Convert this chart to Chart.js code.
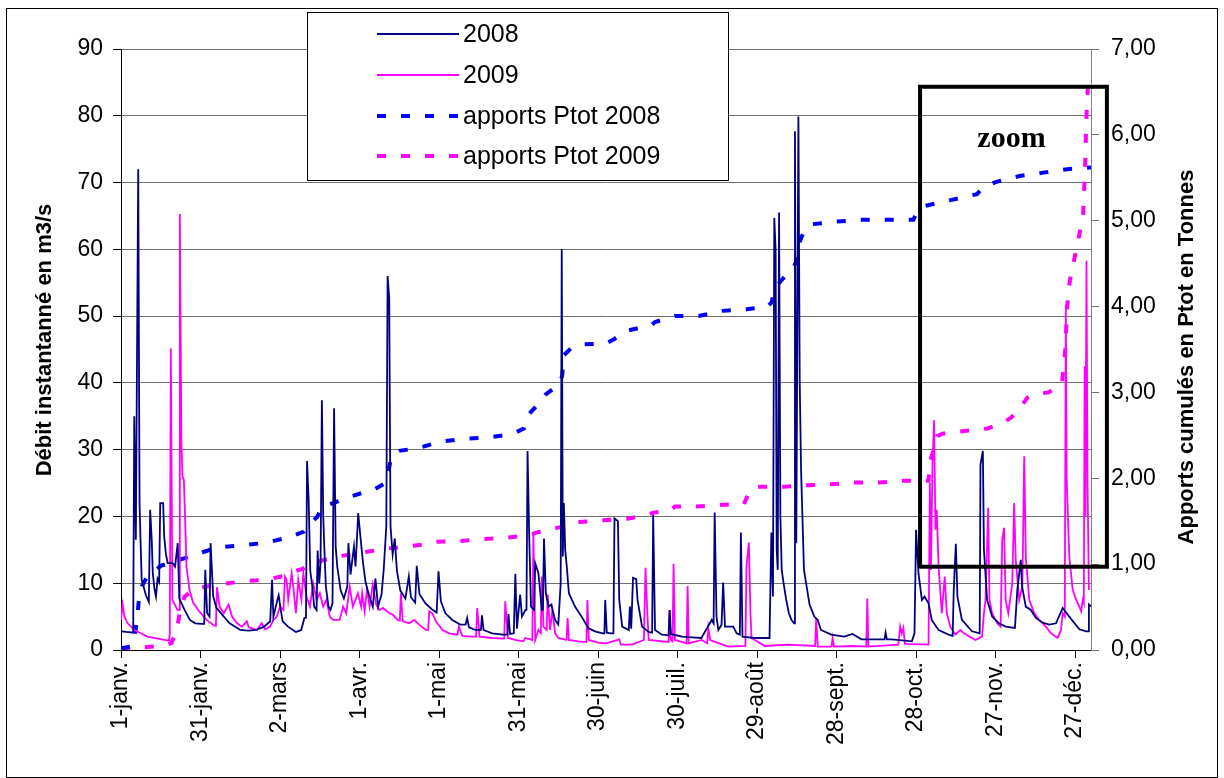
<!DOCTYPE html>
<html lang="fr">
<head>
<meta charset="UTF-8" />
<title>Débit instantané et apports Ptot 2008-2009</title>
<script src="https://cdn.jsdelivr.net/npm/chart.js@4.4.1/dist/chart.umd.min.js"></script>
<style>
  html, body { margin: 0; padding: 0; background: #fff; }
</style>
</head>
<body>
<canvas id="myChart" width="1224" height="778"></canvas>
<script>
// x axis: day of year, one tick label every 30 days
const tickDays = [0, 30, 60, 90, 120, 150, 180, 210, 240, 270, 300, 330, 360];
const tickLabels = ['1-janv.', '31-janv.', '2-mars', '1-avr.', '1-mai', '31-mai', '30-juin',
  '30-juil.', '29-août', '28-sept.', '28-oct.', '27-nov.', '27-déc.'];

// débit 2008 (m3/s)
const days2008 = [
  0, 2, 4.6, 5, 5.6, 6.5, 7.0, 7.4, 7.8, 8.5,
  9.4, 10.5, 11, 11.6, 12, 12.6, 13.2, 13.8, 14.4, 14.8,
  15.9, 16.3, 16.9, 17.6, 19.5, 20.4, 21.4, 22, 24, 26,
  28, 30.5, 31.4, 31.8, 32.5, 33.4, 33.8, 34.8, 36, 38.8, 41, 45,
  48, 51, 54, 56.3, 57, 57.5, 59, 59.5, 60.2, 61,
  63, 66, 68, 69.2, 69.8, 70.2, 70.8, 71.4, 72.2, 72.9, 73.8,
  74.2, 74.8, 75.3, 75.8, 76.3, 76.7, 77.3, 78.3, 79, 79.8,
  80.4, 81, 81.6, 82.9, 84.1, 85.4, 85.8, 86.6, 87.9, 88.5,
  89.5, 90.4, 91.3, 92.3, 93.5, 95, 96, 97, 98.3, 99.1,
  100.1, 100.6, 101.2, 101.7, 102.5, 103.3, 104.1, 105.4, 107.3, 108.6,
  109.4, 111, 111.6, 112.6, 114.8, 117.3, 119.1, 119.8, 120.7, 122.4,
  125, 128, 130, 130.6, 131.3, 133.8, 135.8, 136.2, 136.8, 140, 144,
  145.8, 146.2, 146.8, 148.2, 148.8, 149.4, 150.6, 151.3, 152.6, 153.0, 153.4, 154,
  154.7, 155.9, 156.3, 157.5, 158.8, 159.2, 159.6, 160.3, 161.3, 162.3, 163.8, 165,
  165.9, 166.3, 166.7, 167.1, 167.6, 168.2, 169, 171.3, 173.8, 176.3,
  178.8, 181.8, 182.4, 182.7, 183.3, 184.8, 185.8, 186.2, 187.5, 188, 189.1, 191.6,
  192, 192.5, 193.2, 194.4, 194.9, 196.6, 199.1, 200.4, 200.8, 201.5, 204.1,
  206.6, 207, 207.5, 211.6, 215.4, 219, 222.9, 223.6, 224, 224.7, 225.4, 226.6,
  227.2, 227.9, 231, 232.3, 233.5, 233.9, 234.5, 239, 244.7, 245.4, 246,
  246.5, 247, 247.4, 247.8, 248.3, 248.8, 249.3, 250, 251, 252,
  253, 254, 254.3, 254.8, 255.6, 256.1, 256.6, 257.7, 259.8, 261.6,
  262.9, 264.1, 268, 272.9, 276, 279.4, 287, 288.1, 288.5, 289, 290.8,
  298.4, 299.4, 300, 300.9, 302.2, 303.2, 304.7, 305.9, 308.5, 312.3,
  313.8, 314.2, 315, 315.6, 317.3, 321.1, 324, 324.3, 325.2, 325.6,
  326.8, 328.7, 331.3, 333.8, 337.3, 338.2, 339.5, 340, 341.4, 343.3,
  345.2, 347.7, 350.3, 352.8, 355.3, 357.8, 361.6, 364.2, 364.9, 365.2, 366
];
const flow2008 = [
  2.8, 2.7, 2.6, 35, 16.5, 72, 22, 16, 10.5, 9.5,
  8.2, 7.2, 21, 16.5, 11.5, 9.2, 8, 10.7, 10.2, 22,
  22, 17, 14.5, 13, 13, 12.5, 16, 7.7, 6, 4.5,
  4, 3.9, 3.9, 12, 5.5, 5, 16, 8, 6.3, 5, 4, 3,
  2.9, 3, 3.5, 4.3, 10.5, 5, 7.5, 8.2, 6.2, 4.3,
  3.5, 2.7, 3, 4.8, 4.8, 28.3, 22.6, 11.9, 9.5, 6.5, 6,
  14.9, 10, 13, 37.4, 20.2, 15.5, 9.5, 6.5, 6, 7,
  36.2, 15.5, 12.5, 8.9, 7.7, 9.5, 16, 11.3, 15.5, 12.5,
  20.5, 16.7, 13.1, 10.1, 8.3, 6.5, 10.7, 6.5, 8.3, 11.9,
  18.5, 56, 52.7, 18.5, 14.3, 16.7, 11.9, 8.9, 7.7, 11,
  7.9, 7.1, 12.6, 8.4, 7, 6.1, 5.6, 11.8, 7.3, 5.5,
  4.5, 3.8, 3.8, 4.8, 3.4, 3, 3, 5.2, 3, 2.5, 2.3,
  2.3, 5.4, 2.4, 2.5, 11.4, 3.2, 8.3, 5, 6, 6, 29.8, 17.5,
  6.5, 6, 13, 11.5, 6, 6, 16.7, 8.5, 6.5, 6.8, 4.5, 3.8,
  10, 60, 14, 22, 15, 12.5, 8.5, 6.5, 5, 3.3,
  2.8, 2.5, 2.5, 7.5, 2.6, 2.5, 2.5, 19.7, 19.3, 7.5, 3.5, 3,
  6.5, 3.2, 10.8, 10.6, 7.5, 3.5, 2.7, 2.6, 20.2, 3, 2.3,
  2.2, 6, 2.4, 2, 1.9, 1.8, 4.5, 4, 20.6, 5, 3, 3.8,
  10.1, 3.5, 3.5, 2.5, 2.3, 17.6, 2, 1.8, 1.8, 17.6, 8,
  64.7, 60, 15, 12, 65.5, 20, 12, 10, 7.5, 5.5,
  4.5, 4, 77.7, 16, 79.9, 40, 27, 12, 6.8, 5,
  4.5, 3, 2.3, 2, 2.4, 1.6, 1.6, 1.6, 2.6, 1.6, 1.6,
  1.3, 2.5, 18, 11.5, 7.5, 8, 7, 4.5, 3, 2.3,
  2.1, 8.8, 15.9, 8, 4.5, 2.8, 2.5, 27.8, 29.8, 15,
  7.5, 5, 4, 3.5, 3.3, 9, 13.5, 9.5, 6.5, 6,
  4.8, 4.1, 3.8, 4, 6.3, 5, 3.1, 2.8, 2.8, 6.8, 6.5
];

// débit 2009 (m3/s)
const days2009 = [
  0, 0.6, 1.3, 2.5, 3.8, 5, 7.5, 10, 12.5, 16.3,
  18.1, 18.4, 18.8, 19.4, 20.3, 21.3, 21.9, 22.2, 22.8, 23.2, 23.7,
  24.2, 24.7, 25.9, 27.2, 29.7, 32.3, 35, 35.8, 36.2, 37.2, 38.8,
  40.6, 41.9, 43.8, 45.6, 47.5, 48.2, 51.3, 53.1, 54.4, 56.3,
  57.5, 58.8, 60, 61.3, 61.9, 62.5, 63.1, 64.4, 65, 66,
  66.9, 68.1, 68.8, 70, 71.3, 72.5, 73.8, 75, 76.3, 77.5,
  78.8, 80, 82.5, 83.8, 85, 86.3, 87.5, 89.4, 90.6, 91,
  91.9, 92.8, 93.8, 95, 96.3, 97.5, 98.8, 101.3, 102.5, 104.4,
  105.2, 105.6, 106.3, 108.8, 110.6, 112.5, 115, 115.9, 116.3, 117.5, 118.8, 121.3,
  123.8, 126.9, 127.5, 128.8, 132.5, 134, 134.4, 135.3, 140, 144.6, 145, 146,
  148.8, 151.9, 152.5, 155.2, 155.6, 156.3, 157.5, 158.4, 158.8, 159.4, 160.6, 161, 161.9,
  162.8, 163.8, 165, 168.1, 168.5, 169, 172.5, 175.6, 176, 176.5, 180, 183,
  188, 188.6, 192.9, 197.3, 197.9, 198.5, 199.1, 206.6, 207, 207.4, 208.1, 208.5,
  209, 213.4, 213.8, 214.2, 219.1, 221.2, 221.6, 222.3, 229.1, 235.6, 236, 236.9, 237.5,
  237.9, 242.9, 251.6, 261.9, 262.3, 262.9, 268.1, 268.5, 269, 276, 281.2, 281.6, 282, 293.3,
  294, 294.6, 295.2, 295.8, 304.7, 305.2, 305.6, 306.2, 306.8, 307.3,
  307.8, 308.5, 309.7, 310.8, 311.6, 312.9, 314.8, 316.7, 318, 322.4,
  324.9, 325.6, 326.2, 327.2, 327.7, 328.7, 330.6, 331.9, 332.5, 333.2,
  333.8, 334.8, 336.3, 337, 337.6, 338.9, 340.1, 340.8, 341.4, 342.7,
  344.6, 346.5, 349, 350.9, 353.4, 354.7, 355.3, 356.1, 356.5, 356.8, 357.8,
  359.1, 360.4, 361.6, 362.3, 362.9, 363.3, 363.6, 363.9, 364.3, 364.7, 365.2
];
const flow2009 = [
  4.5, 6.8, 5, 4, 3.5, 3, 2.5, 2, 1.8, 1.5,
  1.4, 2.3, 45.2, 7.5, 6.8, 6, 6, 65.3, 31, 26, 25.5,
  19.6, 12.5, 8.9, 7.1, 5.7, 4.5, 3.7, 3.6, 9.4, 6.5, 5.5,
  6.8, 5, 4, 3.5, 4.3, 3.4, 3, 4, 3.1, 3.5,
  4.5, 5, 6.5, 6, 11, 10.5, 7.5, 11.5, 9.5, 5.5,
  10.5, 7.5, 11.5, 8, 6.5, 10, 7.5, 8.5, 6.5, 7.5,
  5, 4.5, 4.5, 6.5, 5.5, 9.5, 6.5, 8.5, 6.5, 8.5,
  5.8, 9, 6.5, 9.8, 6.8, 6, 6.3, 5.5, 5.3, 4.5,
  4.4, 8.5, 4.3, 4, 4.5, 3.8, 3, 3, 5.8, 5.5, 4.3, 3,
  2.5, 2.3, 3.5, 2.1, 2, 2, 6.3, 2, 1.8, 1.7, 7.3, 1.8,
  1.5, 1.3, 1.8, 1.5, 17.3, 1.5, 3, 2.5, 11, 3.5, 3, 8.3, 3,
  6, 2.5, 1.8, 1.5, 4.8, 1.5, 1.3, 1.2, 7.5, 1.5, 1.1, 1,
  1.6, 0.8, 0.8, 1.5, 12.3, 6.5, 1.5, 1.2, 6, 1.5, 1.3, 12.9,
  1.5, 1, 9.6, 1, 1.5, 1, 3.3, 1.5, 0.5, 0.6, 12.5, 16.1, 5.5,
  1.8, 0.6, 0.8, 0.6, 4.8, 0.5, 0.5, 1.8, 0.5, 0.6, 0.5, 7.7, 0.5, 0.8,
  3.5, 2.5, 3.3, 0.9, 0.8, 25, 12, 28, 34.4, 18,
  21, 12.5, 5.5, 11, 5.5, 3.5, 2.3, 3, 2.5, 1.5,
  2, 5.5, 7.5, 21.3, 7.5, 5.5, 4, 3.5, 16.5, 18.3,
  7.5, 5.5, 10, 22, 13.5, 7.5, 9.5, 29, 14, 7.5,
  5.5, 4.5, 3.5, 2.5, 1.8, 3, 5.5, 5, 51.7, 26, 14,
  9, 7.5, 6.5, 5.8, 7.5, 7, 42.5, 20, 58.3, 25, 9
];

// apports cumulés Ptot (tonnes)
const ptotDays2008 = [0, 4, 5, 6, 7, 8, 10, 12, 15, 19, 22, 28, 35, 38, 46, 55, 64, 69, 71, 74,
  76, 80, 85, 90, 95, 100, 101, 102, 105, 112, 121, 130, 140, 148, 152, 154, 157, 160, 165.5, 166.5,
  167, 170, 174, 183, 186, 191, 200, 201.5, 209, 218, 227, 236, 244, 245.5, 246.5, 249, 254, 255, 256, 258,
  261, 270, 279, 299, 300, 303, 313, 323, 325, 330, 339, 348, 357, 366];
const ptot2008 = [0.02, 0.04, 0.12, 0.35, 0.66, 0.75, 0.86, 0.9, 0.98, 1.02, 1.05, 1.11, 1.18, 1.2, 1.22, 1.25, 1.32, 1.38, 1.46, 1.55,
  1.67, 1.71, 1.77, 1.82, 1.86, 1.95, 2.1, 2.25, 2.32, 2.35, 2.43, 2.46, 2.48, 2.52, 2.58, 2.75, 2.85, 2.97, 3.1, 3.2,
  3.43, 3.52, 3.56, 3.57, 3.62, 3.72, 3.78, 3.82, 3.89, 3.89, 3.95, 3.97, 4.0, 4.05, 4.2, 4.3, 4.47, 4.55, 4.75, 4.9,
  4.96, 4.99, 5.01, 5.01, 5.08, 5.17, 5.24, 5.31, 5.38, 5.45, 5.52, 5.56, 5.6, 5.62];
const ptotDays2009 = [0, 8, 16, 19, 21, 22.5, 24, 27, 31, 36, 46, 55, 61, 64, 69, 73, 78, 82, 90, 100,
  109, 115, 119, 128, 136, 146, 154, 157, 163, 168, 172, 182, 191, 198, 201, 207, 209, 217, 226, 235,
  236.5, 238, 240, 250, 259, 268, 276, 286, 294, 304.7, 305.3, 306.8, 308, 310, 318, 327, 333, 336, 340, 342,
  345, 350, 355, 356.3, 357, 358, 360, 362, 363, 363.8, 364.2, 364.8];
const ptot2009 = [0, 0.03, 0.05, 0.08, 0.22, 0.5, 0.62, 0.7, 0.73, 0.76, 0.8, 0.82, 0.86, 0.9, 0.95, 1.02, 1.06, 1.09, 1.13, 1.18,
  1.21, 1.23, 1.26, 1.27, 1.29, 1.31, 1.34, 1.37, 1.41, 1.45, 1.49, 1.51, 1.53, 1.57, 1.6, 1.62, 1.67, 1.67, 1.69, 1.7,
  1.8, 1.88, 1.9, 1.9, 1.92, 1.93, 1.95, 1.95, 1.97, 1.97, 2.2, 2.35, 2.49, 2.52, 2.55, 2.58, 2.65, 2.71, 2.85, 2.94,
  2.98, 3.0, 3.1, 3.5, 4.0, 4.3, 4.6, 4.9, 5.05, 5.65, 6.15, 6.55];

// "zoom" frame, in days and right-axis units
const zoomBox = { fromDay: 301.5, toDay: 372, low: 0.97, high: 6.56, labelDay: 336, labelValue: 5.95 };

const sans = "'Liberation Sans', Arial, sans-serif";
const toPoints = (xs, ys) => xs.map((d, i) => ({ x: d, y: ys[i] }));

// legend box, axis titles, zoom frame and outer border
const extras = {
  id: 'extras',
  afterDraw(chart) {
    const { ctx, scales: { x, y1 } } = chart;
    ctx.save();

    ctx.strokeStyle = '#000';
    ctx.lineWidth = 1;
    ctx.strokeRect(6.5, 8.5, 1211, 769);

    // zoom frame
    const zx0 = x.getPixelForValue(zoomBox.fromDay);
    const zx1 = x.getPixelForValue(zoomBox.toDay);
    const zy0 = y1.getPixelForValue(zoomBox.high);
    const zy1 = y1.getPixelForValue(zoomBox.low);
    ctx.lineWidth = 4;
    ctx.strokeRect(zx0, zy0, zx1 - zx0, zy1 - zy0);
    ctx.fillStyle = '#000';
    ctx.font = "bold 30px 'Liberation Serif', 'Times New Roman', serif";
    ctx.textAlign = 'center';
    ctx.textBaseline = 'middle';
    ctx.fillText('zoom', x.getPixelForValue(zoomBox.labelDay), y1.getPixelForValue(zoomBox.labelValue));

    // axis titles
    ctx.font = 'bold 22px ' + sans;
    ctx.save();
    ctx.translate(45, 340);
    ctx.rotate(-Math.PI / 2);
    ctx.fillText('Débit instantanné en m3/s', 0, 0);
    ctx.restore();
    ctx.save();
    ctx.translate(1187, 357);
    ctx.rotate(-Math.PI / 2);
    ctx.fillText('Apports cumulés en Ptot en Tonnes', 0, 0);
    ctx.restore();

    // legend
    ctx.fillStyle = '#fff';
    ctx.fillRect(307, 12, 421, 168);
    ctx.lineWidth = 1;
    ctx.strokeStyle = '#000';
    ctx.strokeRect(307.5, 12.5, 421, 168);
    const rows = [34, 75, 116, 156];
    ctx.font = '25px ' + sans;
    ctx.textAlign = 'left';
    chart.data.datasets.forEach((ds, i) => {
      const ry = rows[i];
      ctx.beginPath();
      ctx.strokeStyle = ds.borderColor;
      ctx.lineWidth = ds.borderWidth;
      ctx.setLineDash(ds.borderDash || []);
      ctx.moveTo(377, ry);
      ctx.lineTo(459, ry);
      ctx.stroke();
      ctx.setLineDash([]);
      ctx.fillStyle = '#000';
      ctx.fillText(ds.label, 463, ry + 1);
    });

    ctx.restore();
  }
};

new Chart(document.getElementById('myChart'), {
  type: 'line',
  data: {
    datasets: [
      { label: '2008', data: toPoints(days2008, flow2008), yAxisID: 'y',
        borderColor: '#000080', borderWidth: 1.8 },
      { label: '2009', data: toPoints(days2009, flow2009), yAxisID: 'y',
        borderColor: '#ff00ff', borderWidth: 1.8 },
      { label: 'apports Ptot 2008', data: toPoints(ptotDays2008, ptot2008), yAxisID: 'y1',
        borderColor: '#0000ff', borderWidth: 4, borderDash: [9, 15] },
      { label: 'apports Ptot 2009', data: toPoints(ptotDays2009, ptot2009), yAxisID: 'y1',
        borderColor: '#ff00ff', borderWidth: 4, borderDash: [9, 15] }
    ]
  },
  options: {
    responsive: false,
    animation: false,
    layout: { padding: { top: 49, left: 0, right: 0, bottom: 0 } },
    elements: { point: { radius: 0 }, line: { tension: 0, fill: false } },
    plugins: { legend: { display: false }, tooltip: { enabled: false } },
    scales: {
      x: {
        type: 'linear', min: 0, max: 366,
        afterBuildTicks: (s) => { s.ticks = tickDays.map((v) => ({ value: v })); },
        afterFit: (s) => { s.height = 128; },
        ticks: {
          autoSkip: false, minRotation: 90, maxRotation: 90, padding: 4, color: '#000',
          font: { family: sans, size: 23 },
          callback: (v, i) => tickLabels[i]
        },
        grid: { drawOnChartArea: false, tickLength: 8, color: '#000' },
        border: { color: '#000' }
      },
      y: {
        position: 'left', min: 0, max: 90,
        afterFit: (s) => { s.width = 121; },
        ticks: { stepSize: 10, padding: 10, color: '#000', font: { family: sans, size: 23 } },
        grid: { color: '#707070', tickColor: '#000', tickLength: 8 },
        border: { color: '#000' }
      },
      y1: {
        position: 'right', min: 0, max: 7,
        afterFit: (s) => { s.width = 133; },
        ticks: {
          stepSize: 1, padding: 12, color: '#000', font: { family: sans, size: 23 },
          callback: (v) => v.toFixed(2).replace('.', ',')
        },
        grid: { drawOnChartArea: false, tickLength: 8, color: '#707070' },
        border: { color: '#808080' }
      }
    }
  },
  plugins: [extras]
});
</script>
</body>
</html>
